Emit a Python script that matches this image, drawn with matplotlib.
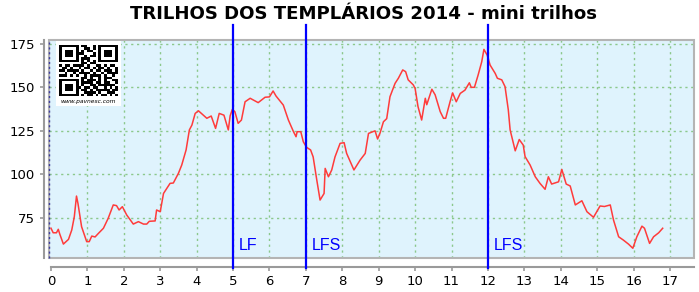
import numpy as np
import matplotlib
matplotlib.use("Agg")
import matplotlib.pyplot as plt
from matplotlib.patches import Rectangle

# elevation profile (km, m)
km = [0, 0.06, 0.15, 0.2, 0.24, 0.34, 0.48, 0.57, 0.64, 0.7, 0.74, 0.84, 0.98, 1.05, 1.12, 1.21,
      1.3, 1.44, 1.57, 1.71, 1.8, 1.87, 1.96, 2.08, 2.26, 2.4, 2.54, 2.63, 2.7, 2.86, 2.9, 3.0,
      3.09, 3.27, 3.36, 3.5, 3.59, 3.71, 3.8, 3.87, 3.96, 4.05, 4.13, 4.28, 4.4, 4.52, 4.62, 4.75,
      4.87, 4.92, 4.98, 5.05, 5.14, 5.23, 5.33, 5.47, 5.69, 5.88, 6.0, 6.1, 6.18, 6.38, 6.52, 6.66,
      6.73, 6.76, 6.86, 6.93, 7.02, 7.13, 7.2, 7.3, 7.39, 7.5, 7.53, 7.62, 7.71, 7.8, 7.94, 8.05,
      8.12, 8.26, 8.32, 8.49, 8.63, 8.72, 8.9, 8.97, 9.04, 9.13, 9.22, 9.31, 9.45, 9.54, 9.66, 9.74,
      9.81, 9.95, 10.0, 10.08, 10.18, 10.28, 10.32, 10.46, 10.55, 10.69, 10.78, 10.84, 10.96, 11.03,
      11.13, 11.24, 11.37, 11.49, 11.54, 11.63, 11.73, 11.83, 11.89, 11.98, 12.06, 12.2, 12.26,
      12.38, 12.47, 12.56, 12.61, 12.75, 12.86, 12.97, 13.02, 13.16, 13.3, 13.43, 13.57, 13.66,
      13.75, 13.94, 14.03, 14.15, 14.26, 14.4, 14.58, 14.72, 14.9, 15.08, 15.2, 15.36, 15.45, 15.59,
      15.72, 15.86, 15.98, 16.09, 16.23, 16.3, 16.44, 16.55, 16.69, 16.8]
elev = [69, 66.4, 66.4, 68.4, 65.7, 59.9, 62.6, 68, 75.6, 87.5, 83.3, 69.9, 61.3, 61.3, 64.5, 64,
        66, 69, 74.7, 82.4, 82, 79.5, 81.4, 76.6, 71.4, 72.8, 71.4, 71.4, 73, 73.2, 79.5, 78.5,
        89, 94.8, 95, 100.6, 105.3, 114, 125.5, 128.3, 135, 136.5, 135, 132.2, 133.5, 126.4, 135, 134,
        125.5, 133.6, 137.3, 136, 129.3, 131.2, 141.7, 143.7, 141.2, 144.3, 144.5, 147.9, 145, 139.8, 131.2, 124.5,
        121.6, 124.5, 124.5, 118.7, 115.5, 114, 110, 96.7, 85.2, 89, 103.4, 98.6, 102.5, 110, 117.8, 118.2,
        112, 105.3, 102.5, 108.2, 112, 123.5, 125, 120.3, 123.9, 130.2, 132, 144.6, 152.3, 155.2, 160, 159,
        154.3, 151.4, 149.4, 138.9, 131.2, 143.7, 140, 148.9, 145.7, 136, 132.2, 132.2, 141.7, 146.8,
        141.7, 146.5, 148.4, 152.6, 150, 150, 157, 164.7, 171.8, 168.5, 162.8, 158, 155.2,
        154.3, 150.4, 137, 125.5, 113.5, 120, 116.8, 110.2, 105.3, 98.6, 94.8, 91.4, 98.6,
        94.4, 95.7, 102.8, 94.4, 93.3, 82.4, 84.8, 78.5, 75.3, 81.8, 81.5, 82.4, 73.7, 64.1,
        62.2, 59.9, 57.5, 64.1, 70.2, 69, 60.3, 64.1, 66.4, 69]

marker_km = [5, 7, 12]
marker_labels = ["LF", "LFS", "LFS"]
x_ticks = list(range(0, 18))
y_ticks = [75, 100, 125, 150, 175]
title = "TRILHOS DOS TEMPLÁRIOS 2014 - mini trilhos"

# QR-like logo pattern (decoration only)
qr_rows = [
    "111111101100101111111",
    "100000100110101000001",
    "101110101011001011101",
    "101110111000101011101",
    "101110100101101011101",
    "100000101110001000001",
    "111111101010101111111",
    "000000001101100000000",
    "101101111010011010110",
    "011010010110101101001",
    "110111101001011011101",
    "001001011110100101111",
    "111010100101111010010",
    "000000001101001011100",
    "111111101011101010011",
    "100000101111011011001",
    "101110101001101111110",
    "101110110110110010101",
    "101110101101011111011",
    "100000100111101001110",
    "111111101011010110101",
]

W, H = 699, 292
fig = plt.figure(figsize=(W / 100, H / 100), dpi=100)
fig.patch.set_facecolor("white")

ax = fig.add_axes([49 / W, (H - 258) / H, 645 / W, 218 / H])
ax.set_facecolor("#dff3fd")
ax.set_xlim(-0.055, 17.66)
ax.set_ylim(51.9, 177.2)

ax.plot(km, elev, color="#ff3b3b", lw=1.1, zorder=3)

# grid
grid_kw = dict(color="#8cc88c", lw=1.0, ls=(0, (1.6, 2.6)), zorder=1)
for x in x_ticks[1:]:
    ax.axvline(x, **grid_kw)
for y in y_ticks:
    ax.axhline(y, **grid_kw)

# plot area frame
ax.add_patch(Rectangle((0, 0), 1, 1, transform=ax.transAxes, fill=False,
                       edgecolor="#b4b4b4", lw=1.5, clip_on=False, zorder=2))
ax.plot([0, 0], [0, 1], transform=ax.transAxes, color="#3c3ca0", lw=1.0,
        ls=(0, (1.5, 2)), clip_on=False, zorder=2)

# axes styling
for s in ["top", "right"]:
    ax.spines[s].set_visible(False)
ax.spines["left"].set_position(("outward", 3.6))
ax.spines["bottom"].set_position(("outward", 6.3))
ax.spines["bottom"].set_bounds(0, 17.66)
for s in ["left", "bottom"]:
    ax.spines[s].set_color("#9a9a9a")
    ax.spines[s].set_linewidth(1.5)
ax.set_xticks(x_ticks)
ax.set_yticks(y_ticks)
ax.tick_params(axis="both", colors="#9a9a9a", length=3, width=1.2, labelcolor="black",
               labelsize=9.5)
ax.tick_params(axis="y", pad=3.5)
ax.tick_params(axis="x", pad=3)

# markers
for mk, lab in zip(marker_km, marker_labels):
    ax.axvline(mk, ymin=-0.046, ymax=1.069, color="#0000ff", lw=1.6, clip_on=False, zorder=4)
    ax.annotate(lab, (mk, 56.3), xytext=(4, 0), textcoords="offset points",
                color="#0000ff", fontsize=11.5, family="Liberation Sans",
                ha="left", va="baseline", zorder=5)

fig.text(363.5 / W, 1 - 14 / H, title, ha="center", va="center",
         fontsize=13.1, fontweight="bold", family="DejaVu Sans")

# QR logo
qax = fig.add_axes([56 / W, (H - 106) / H, 65 / W, 65 / H])
qax.set_facecolor("white")
qr = np.array([[int(c) for c in r[:21].ljust(21, "0")] for r in qr_rows])
qax.imshow(1 - qr, cmap="gray", extent=(3, 62, 10, 61), interpolation="nearest", vmin=0, vmax=1)
qax.set_xlim(0, 65)
qax.set_ylim(0, 65)
qax.text(32.5, 4.5, "www.pavnesc.com", fontsize=4.3, style="italic", ha="center", va="center")
qax.set_xticks([])
qax.set_yticks([])
for s in qax.spines.values():
    s.set_visible(False)

fig.savefig("out.png", dpi=100)
